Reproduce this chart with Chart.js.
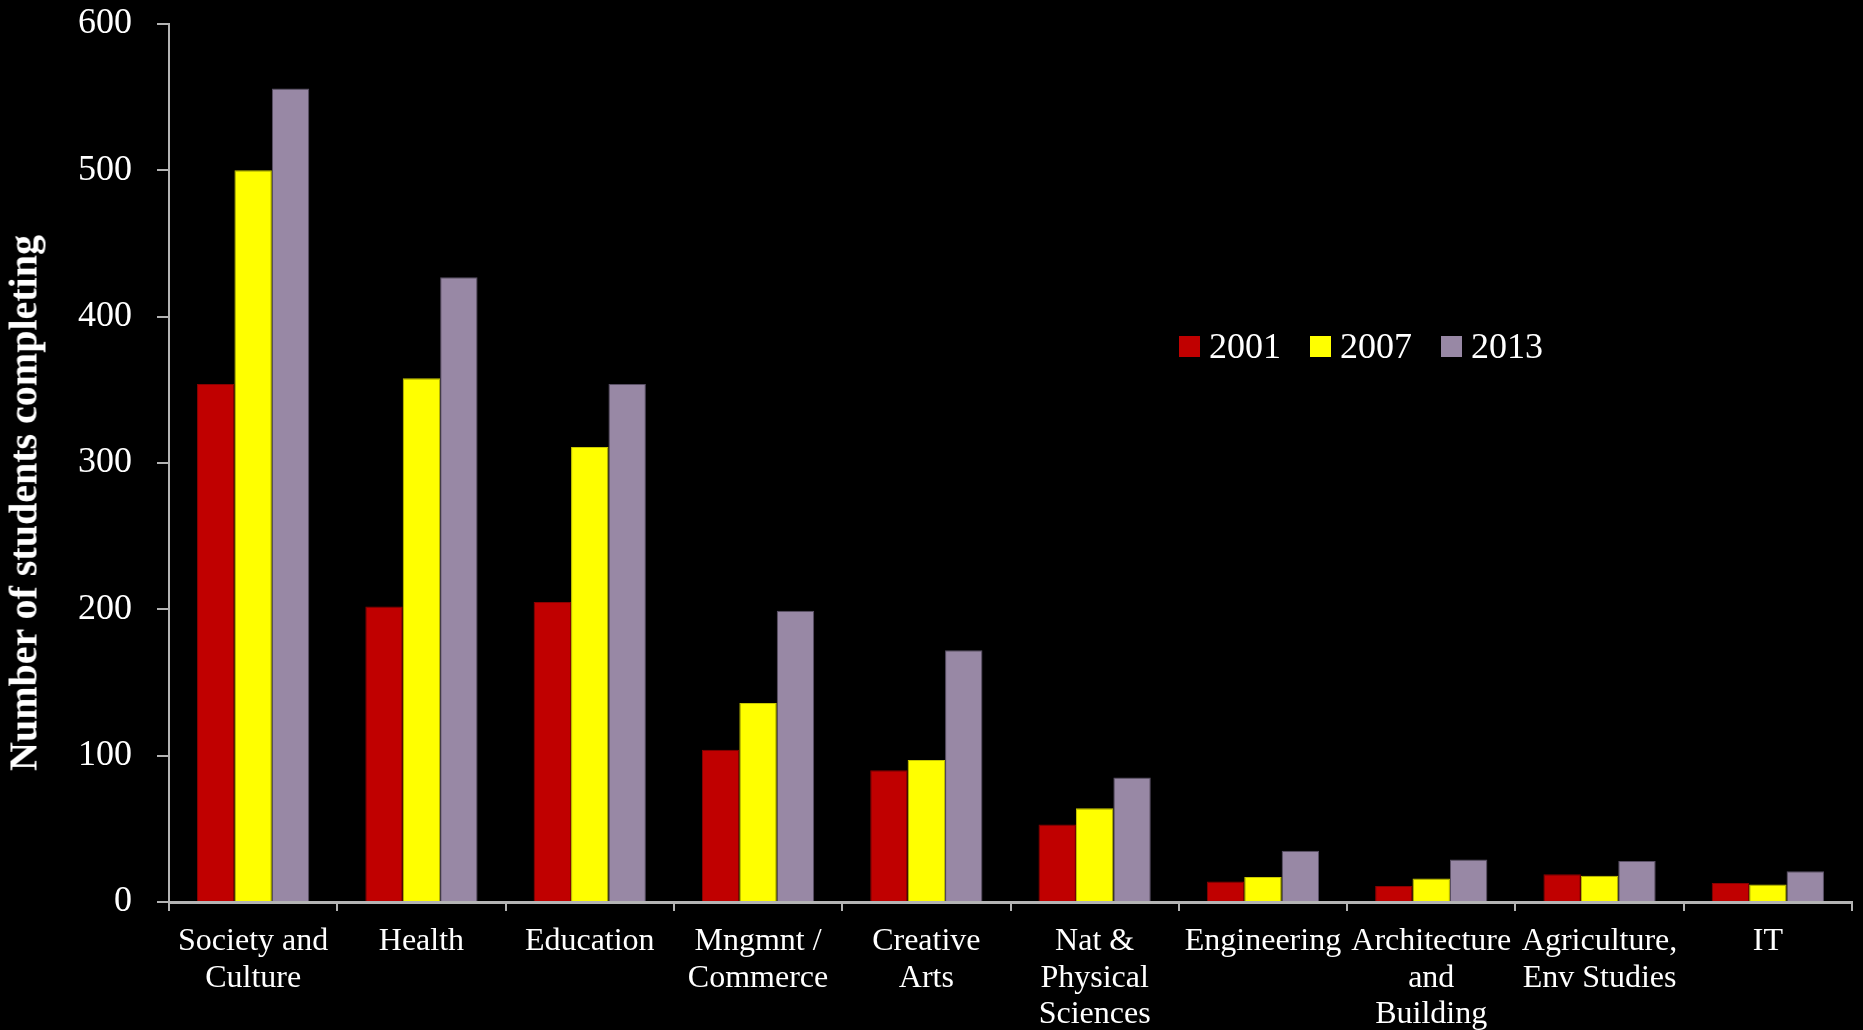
<!DOCTYPE html>
<html>
<head>
<meta charset="utf-8">
<script src="https://cdn.jsdelivr.net/npm/chart.js@4"></script>
<style>
  body { margin: 0; background: #000; }
  #wrap { position: relative; width: 1863px; height: 1030px; background: #000; }
  #ytitle {
    position: absolute; left: 23px; top: 503px;
    transform: translate(-50%, -50%) rotate(-90deg);
    white-space: nowrap; color: #fff;
    font: bold 40px "Liberation Serif", serif;
  }
  #legend { position: absolute; left: 1179px; top: 325px; display: flex; }
  #legend .item { width: 131px; display: flex; align-items: center; color: #fff; font: 36px "Liberation Serif", serif; }
  #legend .sw { width: 21px; height: 21px; margin-right: 9px; }
</style>
</head>
<body>
<div id="wrap">
  <canvas id="chart" width="1863" height="1030"></canvas>
  <div id="ytitle">Number of students completing</div>
  <div id="legend"></div>
</div>
<script>
// === DATA ===
const categories = [
    ['Society and', 'Culture'], ['Health'], ['Education'], ['Mngmnt /', 'Commerce'],
    ['Creative', 'Arts'], ['Nat &', 'Physical', 'Sciences'], ['Engineering'],
    ['Architecture', 'and', 'Building'], ['Agriculture,', 'Env Studies'], ['IT']
];
const years = ['2001', '2007', '2013'];
const values2001 = [354, 202, 205, 104, 90, 53, 14, 11, 19, 13];
const values2007 = [500, 358, 311, 136, 97, 64, 17, 16, 18, 12];
const values2013 = [556, 427, 354, 199, 172, 85, 35, 29, 28, 21];
const yTicks = [0, 100, 200, 300, 400, 500, 600];

const COLORS = { red: '#C00000', yellow: '#FFFF00', lilac: '#9888A5' };
const BORDERS = { red: '#8a0000', yellow: '#c8c800', lilac: '#5a5066' };
const AXIS = '#b4b4b4';
const FONT = '"Liberation Serif", serif';

const series = [
    { label: years[0], data: values2001, color: COLORS.red, border: BORDERS.red },
    { label: years[1], data: values2007, color: COLORS.yellow, border: BORDERS.yellow },
    { label: years[2], data: values2013, color: COLORS.lilac, border: BORDERS.lilac }
];

// html legend sitting inside the plot
const legendEl = document.getElementById('legend');
series.forEach(s => {
    const item = document.createElement('div');
    item.className = 'item';
    item.innerHTML = `<span class="sw" style="background:${s.color}"></span><span>${s.label}</span>`;
    legendEl.appendChild(item);
});

const ctx = document.getElementById('chart').getContext('2d');
new Chart(ctx, {
    type: 'bar',
    data: {
        labels: categories,
        datasets: series.map(s => ({
            label: s.label, data: s.data,
            backgroundColor: s.color, borderColor: s.border, borderWidth: 1,
            categoryPercentage: 0.667, barPercentage: 1.0
        }))
    },
    options: {
        responsive: false, animation: false,
        layout: { padding: { top: 0, right: 11, left: 0, bottom: 0 } },
        plugins: { legend: { display: false }, tooltip: { enabled: false } },
        scales: {
            x: {
                grid: { drawOnChartArea: false, color: AXIS, lineWidth: 2, tickLength: 9, offset: true },
                border: { color: AXIS, width: 3 },
                ticks: { color: '#fff', font: { family: FONT, size: 32, lineHeight: 1.15 }, padding: 12, maxRotation: 0, autoSkip: false },
                afterFit: s => { s.height = 128; }
            },
            y: {
                min: 0, max: 600,
                afterBuildTicks: s => { s.ticks = yTicks.map(v => ({ value: v })); },
                grid: { drawOnChartArea: false, color: AXIS, lineWidth: 2, tickLength: 12 },
                border: { color: AXIS, width: 2 },
                ticks: { color: '#fff', font: { family: FONT, size: 36 }, padding: 25 },
                afterFit: s => { s.width = 169; s.paddingTop = 24; s.paddingBottom = 0; }
            }
        }
    }
});
</script>
</body>
</html>
